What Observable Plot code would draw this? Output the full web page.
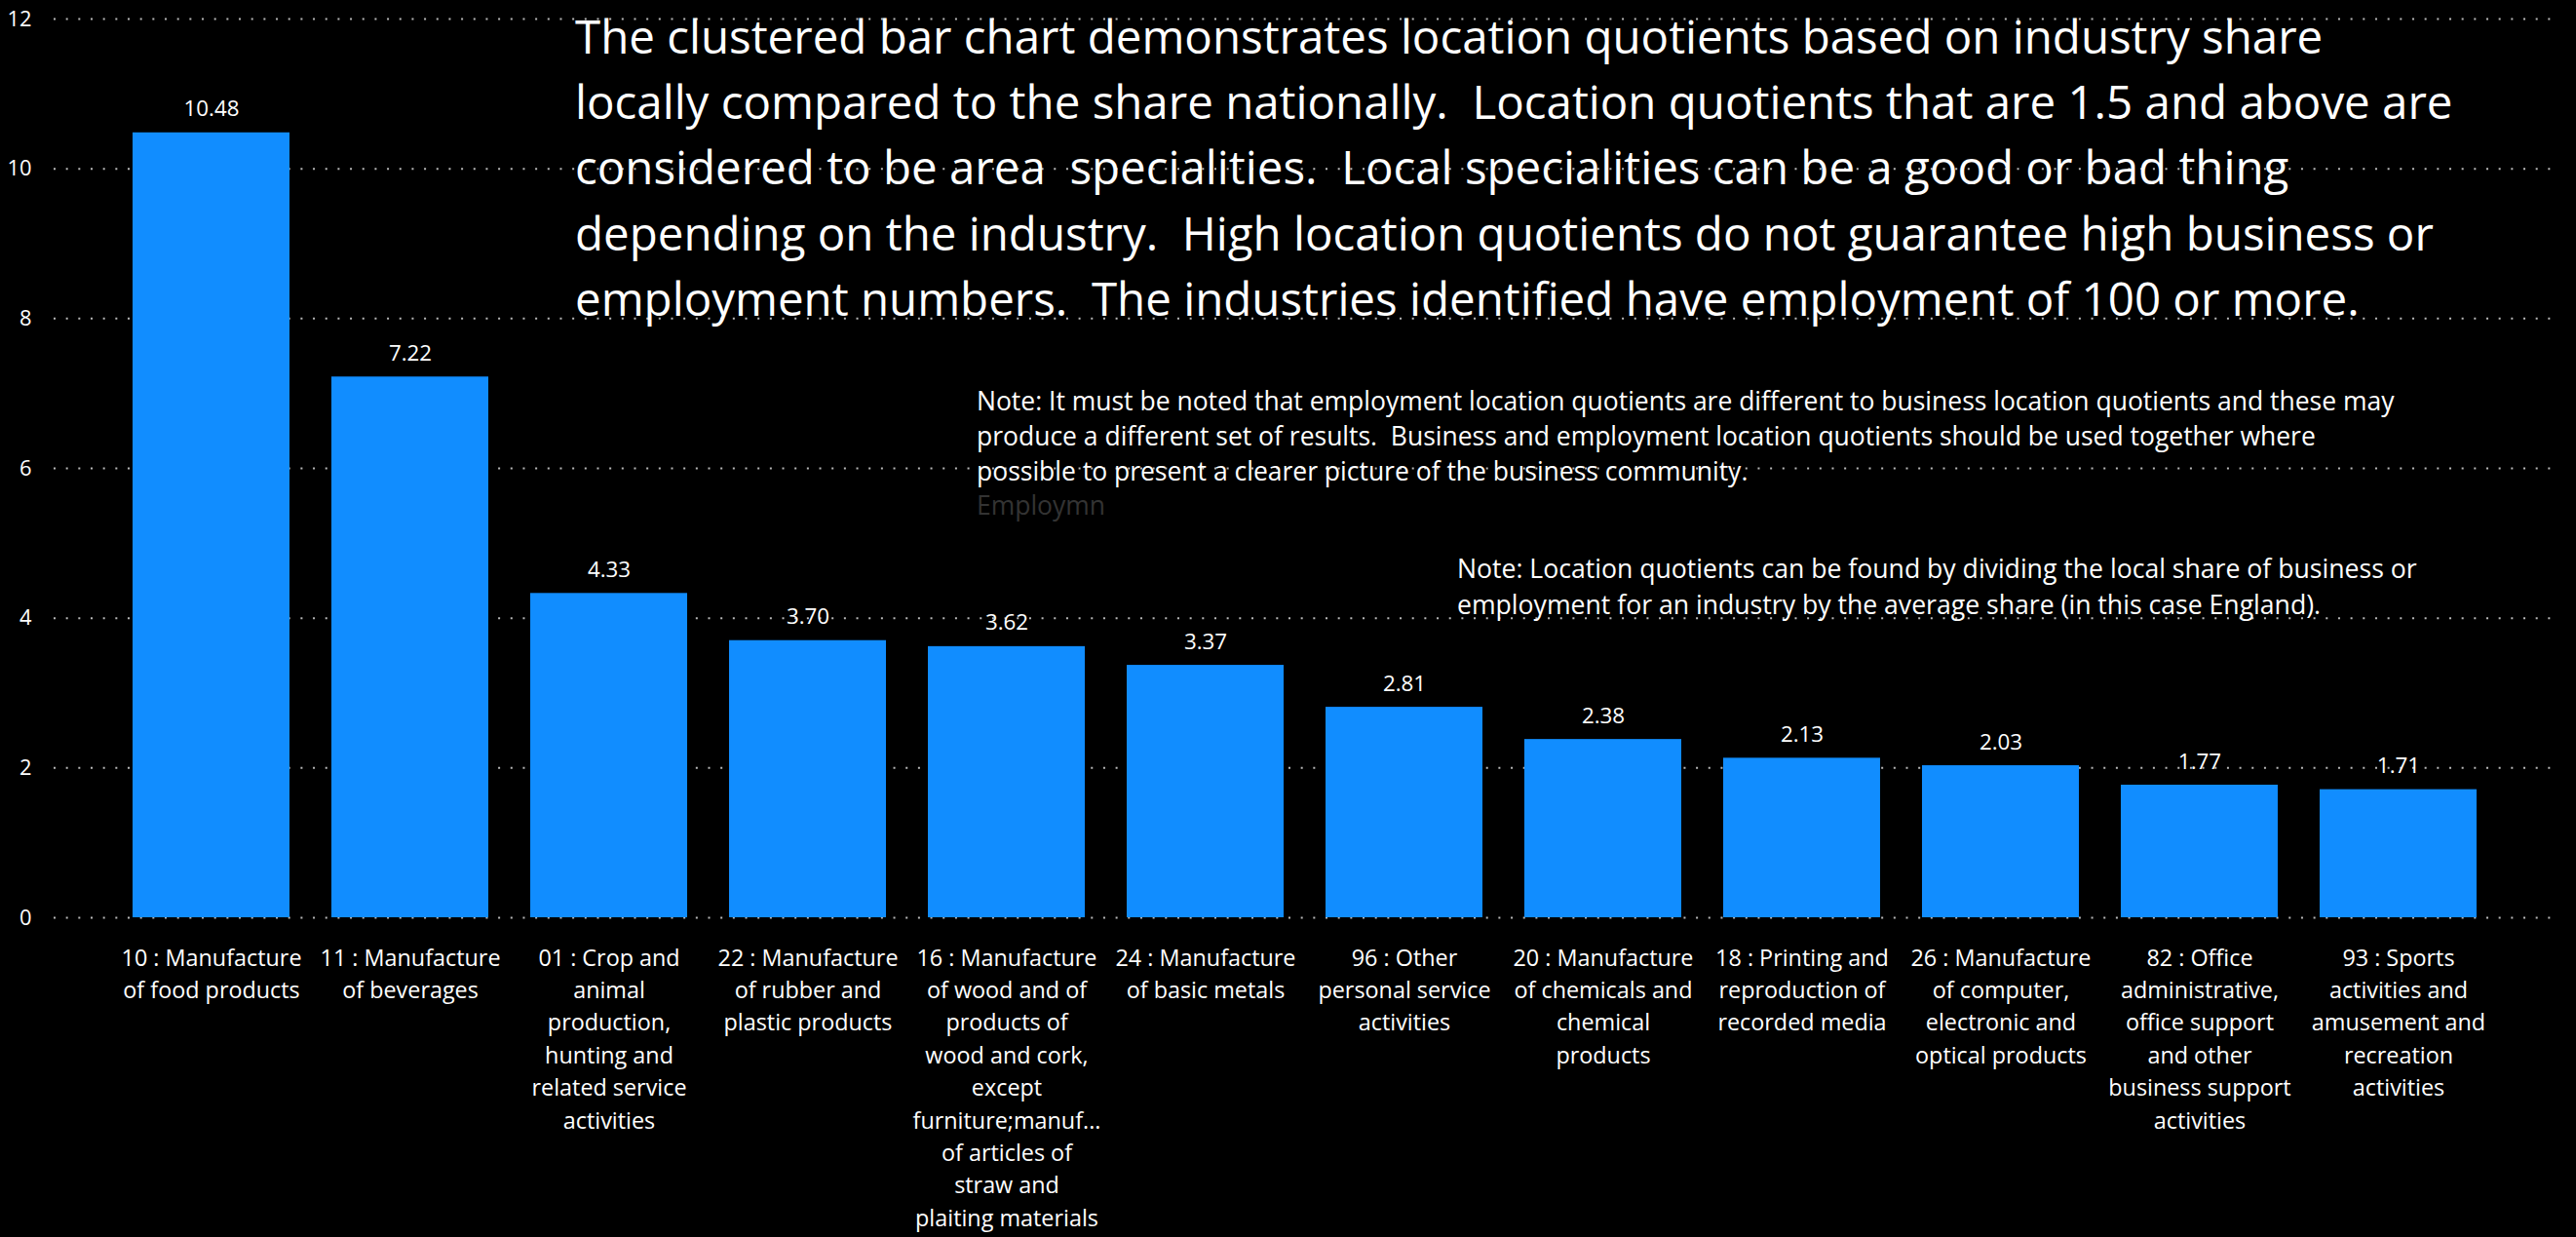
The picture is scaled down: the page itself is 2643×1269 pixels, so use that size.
<!DOCTYPE html>
<html>
<head>
<meta charset="utf-8">
<script src="https://cdn.jsdelivr.net/npm/d3@7"></script>
<script src="https://cdn.jsdelivr.net/npm/@observablehq/plot@0.6"></script>
<style>
  html, body { margin: 0; padding: 0; background: #000; }
  #chart { width: 2643px; height: 1269px; overflow: hidden; background: #000; }
  #chart svg text.pre { white-space: pre; }
</style>
</head>
<body>
<div id="chart"></div>
<script>
// ---------- data ----------
const categories = [
  "10 : Manufacture\nof food products",
  "11 : Manufacture\nof beverages",
  "01 : Crop and\nanimal\nproduction,\nhunting and\nrelated service\nactivities",
  "22 : Manufacture\nof rubber and\nplastic products",
  "16 : Manufacture\nof wood and of\nproducts of\nwood and cork,\nexcept\nfurniture;manuf...\nof articles of\nstraw and\nplaiting materials",
  "24 : Manufacture\nof basic metals",
  "96 : Other\npersonal service\nactivities",
  "20 : Manufacture\nof chemicals and\nchemical\nproducts",
  "18 : Printing and\nreproduction of\nrecorded media",
  "26 : Manufacture\nof computer,\nelectronic and\noptical products",
  "82 : Office\nadministrative,\noffice support\nand other\nbusiness support\nactivities",
  "93 : Sports\nactivities and\namusement and\nrecreation\nactivities"
];
const values = [10.48, 7.22, 4.33, 3.70, 3.62, 3.37, 2.81, 2.38, 2.13, 2.03, 1.77, 1.71];
const yTicks = [0, 2, 4, 6, 8, 10, 12];

const titleLines = [
  "The clustered bar chart demonstrates location quotients based on industry share",
  "locally compared to the share nationally.  Location quotients that are 1.5 and above are",
  "considered to be area  specialities.  Local specialities can be a good or bad thing",
  "depending on the industry.  High location quotients do not guarantee high business or",
  "employment numbers.  The industries identified have employment of 100 or more."
];
const note1Lines = [
  "Note: It must be noted that employment location quotients are different to business location quotients and these may",
  "produce a different set of results.  Business and employment location quotients should be used together where",
  "possible to present a clearer picture of the business community."
];
const note1Faded = "Employmn";
const note2Lines = [
  "Note: Location quotients can be found by dividing the local share of business or",
  "employment for an industry by the average share (in this case England)."
];

// ---------- styling ----------
const FONT = '"Open Sans", "Noto Sans", sans-serif';
const BAR = "#118DFF";
const TXT = "#ffffff";

const ctx = document.createElement("canvas").getContext("2d");
function fitSize(str, target) {
  ctx.font = `100px ${FONT}`;
  return 100 * target / ctx.measureText(str).width;
}
const xLabelSize = fitSize("10 : Manufacture", 185);
const valueSize = fitSize("10.48", 57);
const tickSize = fitSize("12", 25);
const titleSize = fitSize(titleLines[1], 1927);
const note1Size = fitSize(note1Lines[0], 1455);
const note2Size = fitSize(note2Lines[0], 985);

const data = categories.map((c, i) => ({category: c, value: values[i]}));

const W = 2643, H = 1269;
const plot = Plot.plot({
  width: W,
  height: H,
  marginTop: 19,
  marginBottom: 328,
  marginLeft: 55,
  marginRight: 16,
  style: {background: "#000", color: TXT, fontFamily: FONT},
  x: {type: "band", domain: categories, range: [55, 2627], round: false,
      paddingInner: 0.2108, paddingOuter: 0.4095, align: 0.485, axis: null},
  y: {domain: [0, 12], axis: null},
  marks: [
    Plot.gridY(yTicks, {stroke: "#b8b8b8", strokeOpacity: 1, strokeWidth: 2, strokeDasharray: "2,10.67"}),
    Plot.barY(data, {x: "category", y: "value", fill: BAR}),
    Plot.text(data, {x: "category", y: "value", text: d => d3.format(".2f")(d.value),
      lineAnchor: "bottom", dy: -17, fill: TXT, fontSize: valueSize}),
    Plot.axisY(yTicks, {tickSize: 0, tickPadding: 23, fontSize: tickSize, fill: TXT, label: null,
      tickFormat: d => String(d)}),
    Plot.axisX({tickSize: 0, tickPadding: 59 - 0.71 * xLabelSize - 17, fontSize: xLabelSize,
      lineHeight: 33.4 / xLabelSize, fill: TXT, label: null})
  ]
});
document.getElementById("chart").appendChild(plot);

// ---------- overlaid text boxes (as in the original report page) ----------
const svg = d3.select(plot);
const g = svg.append("g").attr("font-family", FONT).attr("text-anchor", "start");
function block(lines, x, y0, step, size, fill) {
  lines.forEach((t, i) => {
    g.append("text").attr("class", "pre")
      .attr("x", x).attr("y", y0 + i * step)
      .attr("font-size", size).attr("fill", fill)
      .text(t);
  });
}
block(titleLines, 590, 55, 67.2, titleSize, TXT);
block(note1Lines, 1002, 421, 36, note1Size, TXT);
block([note1Faded], 1002, 528, 36, note1Size, "#333333");
block(note2Lines, 1495, 593, 36.5, note2Size, TXT);
</script>
</body>
</html>
